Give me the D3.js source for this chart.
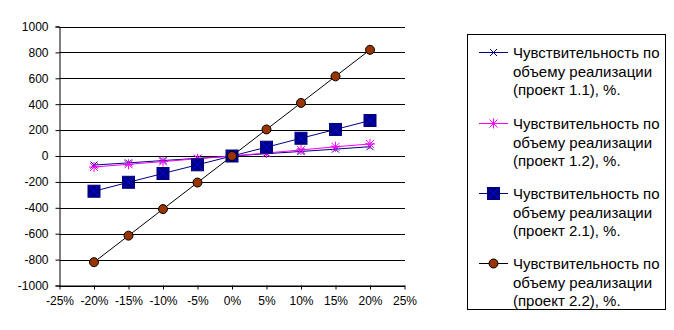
<!DOCTYPE html>
<html><head><meta charset="utf-8">
<script src="https://cdn.jsdelivr.net/npm/d3@7"></script>
<style>
html,body{margin:0;padding:0;background:#fff;}
svg{display:block;font-family:"Liberation Sans",Arial,sans-serif;}
</style></head>
<body>
<svg id="c" width="674" height="330"></svg>
<script>
const categories = [-0.20,-0.15,-0.10,-0.05,0,0.05,0.10,0.15,0.20];
const xTicks = [-0.25,-0.20,-0.15,-0.10,-0.05,0,0.05,0.10,0.15,0.20,0.25];
const yTicks = [-1000,-800,-600,-400,-200,0,200,400,600,800,1000];
const s11 = [-70,-53,-35,-18,0,18,35,53,72];
const s12 = [-85,-64,-43,-21,0,23,47,71,93];
const s21 = [-272,-203,-135,-68,0,68,137,205,274];
const s22 = [-820,-615,-410,-205,0,205,410,615,820];
const seriesNames = [
  ["Чувствительность по","объему реализации","(проект 1.1), %."],
  ["Чувствительность по","объему реализации","(проект 1.2), %."],
  ["Чувствительность по","объему реализации","(проект 2.1), %."],
  ["Чувствительность по","объему реализации","(проект 2.2), %."]
];

const svg = d3.select("#c");
const x = d3.scaleLinear().domain([-0.25,0.25]).range([59.5,404.5]);
const y = d3.scaleLinear().domain([-1000,1000]).range([285.5,26.5]);
const hy = s => s.replace(/\u2212/g,"-");

// gridlines
svg.append("g").selectAll("line").data(yTicks).join("line")
  .attr("x1",59.5).attr("x2",405).attr("y1",d=>Math.round(y(d))+0.5).attr("y2",d=>Math.round(y(d))+0.5)
  .attr("stroke","#000").attr("stroke-width",1);

// y axis
const yAxis = d3.axisLeft(y).tickValues(yTicks).tickSize(4).tickPadding(7).tickFormat(d=>hy(d3.format("d")(d)));
const gy = svg.append("g").attr("transform","translate(59.5,0)").call(yAxis);
gy.select(".domain").attr("stroke","#000");
gy.selectAll("text").attr("font-size","12px").attr("font-family","Liberation Sans, Arial, sans-serif").attr("fill","#000");

// x axis at bottom
const xAxis = d3.axisBottom(x).tickValues(xTicks).tickSize(4).tickSizeOuter(0).tickPadding(7).tickFormat(d=>hy(d3.format(".0%")(d)));
const gx = svg.append("g").attr("transform","translate(0,285.5)").call(xAxis);
gx.select(".domain").attr("stroke","#000");
gx.selectAll("text").attr("font-size","12px").attr("font-family","Liberation Sans, Arial, sans-serif").attr("fill","#000");

const styles = [
  {data:s11, line:"#000080", marker:"x"},
  {data:s12, line:"#ff00ff", marker:"star"},
  {data:s21, line:"#000080", marker:"square"},
  {data:s22, line:"#000000", marker:"circle"}
];

function drawMarker(g, type, cx, cy){
  if(type==="x"){
    const r=3.5;
    g.append("path").attr("d",`M${cx-r},${cy-r}L${cx+r},${cy+r}M${cx-r},${cy+r}L${cx+r},${cy-r}`)
      .attr("stroke","#000080").attr("stroke-width",1).attr("fill","none");
  } else if(type==="star"){
    const r=4;
    g.append("path").attr("d",`M${cx-r},${cy-r}L${cx+r},${cy+r}M${cx-r},${cy+r}L${cx+r},${cy-r}M${cx},${cy-r-1}L${cx},${cy+r+1}M${cx-r-1},${cy}L${cx+r+1},${cy}`)
      .attr("stroke","#ff00ff").attr("stroke-width",1).attr("fill","none");
  } else if(type==="square"){
    const r=6;
    g.append("rect").attr("x",cx-r).attr("y",cy-r).attr("width",2*r).attr("height",2*r)
      .attr("fill","#000080").attr("stroke","#000080");
    const q=5;
    g.append("path").attr("d",`M${cx-q},${cy-q}L${cx+q},${cy+q}M${cx-q},${cy+q}L${cx+q},${cy-q}`)
      .attr("stroke","#0000ff").attr("stroke-width",1).attr("fill","none");
  } else if(type==="circle"){
    g.append("circle").attr("cx",cx).attr("cy",cy).attr("r",4.5)
      .attr("fill","#993300").attr("stroke","#000").attr("stroke-width",1);
  }
}

const line = d3.line().x((d,i)=>x(categories[i])).y(d=>y(d));
styles.forEach(s=>{
  const g = svg.append("g");
  g.append("path").datum(s.data).attr("d",line).attr("fill","none").attr("stroke",s.line).attr("stroke-width",1);
  s.data.forEach((v,i)=>drawMarker(g,s.marker,x(categories[i]),y(v)));
});

// legend
const leg = svg.append("g");
leg.append("rect").attr("x",467.5).attr("y",34.5).attr("width",198).attr("height",275)
  .attr("fill","#fff").attr("stroke","#000").attr("stroke-width",1);
const legY = [52.5,123.5,193.5,263.5];
styles.forEach((s,i)=>{
  const g = leg.append("g");
  const ly = legY[i];
  g.append("line").attr("x1",479).attr("x2",508).attr("y1",ly).attr("y2",ly).attr("stroke",s.line).attr("stroke-width",1);
  drawMarker(g,s.marker,493.5,ly);
  seriesNames[i].forEach((t,j)=>{
    g.append("text").attr("x",513).attr("y",ly+5.5+j*18.7).attr("font-size","15px").attr("fill","#000").text(t);
  });
});
</script>
</body></html>
